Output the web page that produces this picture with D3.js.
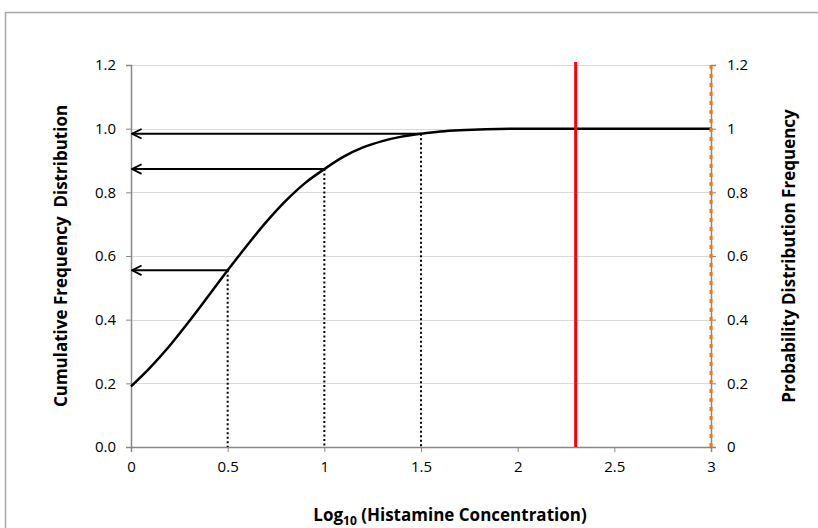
<!DOCTYPE html>
<html lang="en">
<head>
<meta charset="utf-8">
<title>Cumulative Frequency Distribution</title>
<script src="https://d3js.org/d3.v7.min.js"></script>
<style>
  body { margin: 0; background: #fff; }
  text { font-family: 'Open Sans', sans-serif; }
  .title { font-size: 17px; font-weight: bold; fill: #000; }
</style>
</head>
<body>
<script>
// curve (log10 concentration vs cumulative frequency)
var curveX = [0, 0.1, 0.2, 0.3, 0.4, 0.5, 0.6, 0.7, 0.8, 0.9, 1.0, 1.1, 1.2, 1.3, 1.4, 1.5, 1.6, 1.7, 1.8, 1.9, 2.0, 2.5, 3.0];
var curveY = [0.19, 0.25, 0.318, 0.394, 0.474, 0.555, 0.633, 0.707, 0.773, 0.829, 0.873, 0.912, 0.941, 0.961, 0.975, 0.984, 0.991, 0.995, 0.997, 0.999, 1.0, 1.0, 1.0];

// read-off points (arrows + dotted drops)
var readX = [0.5, 1.0, 1.5];
var readY = [0.555, 0.873, 0.984];

var redLineX = 2.3;
var orangeLineX = 3;

var xTicks = [0, 0.5, 1, 1.5, 2, 2.5, 3];
var yTicks = [0, 0.2, 0.4, 0.6, 0.8, 1.0, 1.2];

var W = 818, H = 528;
var m = {left: 131, right: 107, top: 65, bottom: 81};

var svg = d3.select("body").append("svg")
  .attr("width", W).attr("height", H);

// outer chart border
svg.append("rect")
  .attr("x", 5.5).attr("y", 12.5)
  .attr("width", W + 20).attr("height", H + 20)
  .attr("fill", "none").attr("stroke", "#a6a6a6").attr("stroke-width", 1.5);

var x = d3.scaleLinear().domain([0, 3]).range([m.left, W - m.right]);
var y = d3.scaleLinear().domain([0, 1.2]).range([H - m.bottom, m.top]);

// gridlines
svg.append("g").selectAll("line")
  .data(yTicks.slice(1))
  .enter().append("line")
  .attr("x1", x(0)).attr("x2", x(3))
  .attr("y1", function(d) { return Math.round(y(d)) + 0.5; })
  .attr("y2", function(d) { return Math.round(y(d)) + 0.5; })
  .attr("stroke", "#d9d9d9").attr("stroke-width", 1);

// axes
var axisCol = "#888";
var gx = svg.append("g")
  .attr("transform", "translate(0," + y(0) + ")")
  .call(d3.axisBottom(x).tickValues(xTicks).tickSize(5).tickPadding(9)
    .tickFormat(function(d) { return d; }));

var gy = svg.append("g")
  .attr("transform", "translate(" + x(0) + ",0)")
  .call(d3.axisLeft(y).tickValues(yTicks).tickSize(5).tickPadding(10)
    .tickFormat(d3.format(".1f")));

var gy2 = svg.append("g")
  .attr("transform", "translate(" + x(3) + ",0)")
  .call(d3.axisRight(y).tickValues(yTicks).tickSize(5).tickPadding(11)
    .tickFormat(function(d) { return +d.toFixed(1); }));

[gx, gy, gy2].forEach(function(g) {
  g.attr("font-size", 15).attr("font-family", "'Open Sans', sans-serif");
  g.select(".domain").attr("stroke", axisCol).attr("stroke-width", 1.5);
  g.selectAll(".tick line").attr("stroke", axisCol);
  g.selectAll(".tick text").attr("fill", "#000");
});

// arrowhead
svg.append("defs").append("marker")
  .attr("id", "arr")
  .attr("viewBox", "0 0 10 10")
  .attr("refX", 9).attr("refY", 5)
  .attr("markerWidth", 6).attr("markerHeight", 6)
  .attr("markerUnits", "strokeWidth")
  .attr("orient", "auto")
  .append("path")
  .attr("d", "M1,1 L9,5 L1,9")
  .attr("fill", "none").attr("stroke", "#000").attr("stroke-width", 1.5);

// dotted drops to x axis
svg.append("g").selectAll("line")
  .data(readX)
  .enter().append("line")
  .attr("x1", function(d) { return x(d); })
  .attr("x2", function(d) { return x(d); })
  .attr("y1", function(d, i) { return y(readY[i]); })
  .attr("y2", y(0))
  .attr("stroke", "#000").attr("stroke-width", 2)
  .attr("stroke-dasharray", "2,2.5");

// arrows to y axis
svg.append("g").selectAll("line")
  .data(readX)
  .enter().append("line")
  .attr("x1", function(d) { return x(d); })
  .attr("x2", x(0) + 1)
  .attr("y1", function(d, i) { return y(readY[i]); })
  .attr("y2", function(d, i) { return y(readY[i]); })
  .attr("stroke", "#000").attr("stroke-width", 2)
  .attr("marker-end", "url(#arr)");

// cumulative curve
var line = d3.line()
  .x(function(d, i) { return x(curveX[i]); })
  .y(function(d) { return y(d); })
  .curve(d3.curveMonotoneX);

svg.append("path")
  .datum(curveY)
  .attr("d", line)
  .attr("fill", "none").attr("stroke", "#000").attr("stroke-width", 2.5);

// red vertical line
svg.append("line")
  .attr("x1", x(redLineX)).attr("x2", x(redLineX))
  .attr("y1", y(1.2) - 3).attr("y2", y(0))
  .attr("stroke", "#ff0000").attr("stroke-width", 3);

// orange dotted line on the right axis
svg.append("line")
  .attr("x1", x(orangeLineX)).attr("x2", x(orangeLineX))
  .attr("y1", y(1.2)).attr("y2", y(0))
  .attr("stroke", "#ff7300").attr("stroke-width", 3)
  .attr("stroke-dasharray", "4,5");

// titles
svg.append("text")
  .attr("class", "title")
  .attr("transform", "translate(67," + ((y(0) + y(1.2)) / 2) + ") rotate(-90)")
  .attr("text-anchor", "middle")
  .attr("xml:space", "preserve")
  .text("Cumulative Frequency  Distribution");

svg.append("text")
  .attr("class", "title")
  .attr("transform", "translate(795," + ((y(0) + y(1.2)) / 2) + ") rotate(-90)")
  .attr("text-anchor", "middle")
  .text("Probability Distribution Frequency");

var xt = svg.append("text")
  .attr("class", "title")
  .attr("x", 450).attr("y", 521)
  .attr("text-anchor", "middle");
xt.append("tspan").text("Log");
xt.append("tspan").attr("font-size", "12px").attr("dy", 4).text("10");
xt.append("tspan").attr("dy", -4).text(" (Histamine Concentration)");
</script>
</body>
</html>
